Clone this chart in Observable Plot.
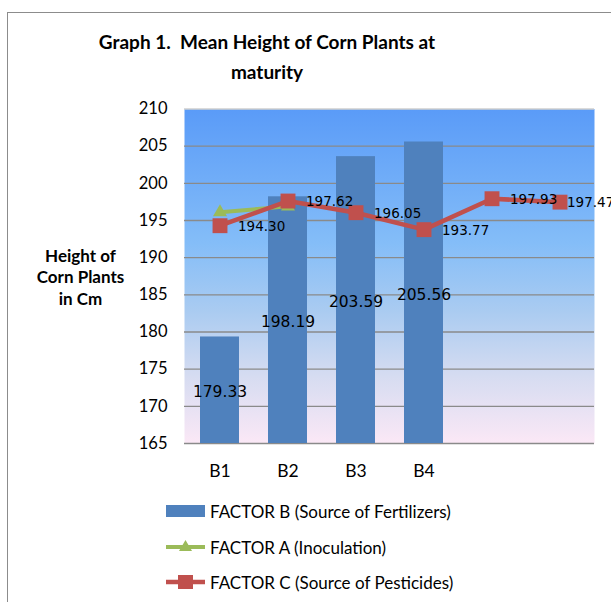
<!DOCTYPE html>
<html><head><meta charset="utf-8">
<script src="https://cdn.jsdelivr.net/npm/d3@7"></script>
<script src="https://cdn.jsdelivr.net/npm/@observablehq/plot@0.6"></script>
<style>
body{margin:0;width:611px;height:602px;overflow:hidden;background:#fff;font-family:Lato,sans-serif;position:relative}
#frame{position:absolute;left:7px;top:12px;width:700px;height:700px;border-left:1.5px solid #8c8c8c;border-top:1.5px solid #8c8c8c}
#title{position:absolute;left:0;top:27px;width:534px;text-align:center;font-weight:bold;font-size:19px;line-height:30px;color:#000}
#chart{position:absolute;left:0;top:90px}
.leg{position:absolute;left:165px;height:22px;display:flex;align-items:center;font-size:17px;color:#000;white-space:nowrap}
.leg svg{margin-right:1px}
</style></head><body>
<div id="frame"></div>
<div id="title">Graph 1.&nbsp; Mean Height of Corn Plants at<br>maturity</div>
<div id="chart"></div>
<div id="legend"></div>
<script>
// ---- data ----
const slots = [1, 2, 3, 4, 5, 6];
const xTickSlots = [1, 2, 3, 4];
const xTickLabels = ["B1", "B2", "B3", "B4"];
const factorB = [179.33, 198.19, 203.59, 205.56];
const factorA = [196.1, 196.9];
const factorC = [194.30, 197.62, 196.05, 193.77, 197.93, 197.47];
const yTicks = [165, 170, 175, 180, 185, 190, 195, 200, 205, 210];
const seriesNames = ["FACTOR B (Source of Fertilizers)", "FACTOR A (Inoculation)", "FACTOR C (Source of Pesticides)"];
const yTitle = "Height of\nCorn Plants\nin Cm";
const colors = {B: "#4f81bd", A: "#9bbb59", C: "#c0504d"};

const bData = factorB.map((v, i) => ({slot: slots[i], value: v}));
const aData = factorA.map((v, i) => ({slot: slots[i], value: v}));
const cData = factorC.map((v, i) => ({slot: slots[i], value: v}));
const yMin = yTicks[0], yMax = yTicks[yTicks.length - 1];

const plot = Plot.plot({
  width: 611, height: 390,
  marginLeft: 184, marginRight: 17, marginTop: 18.5, marginBottom: 37,
  style: {fontFamily: "Lato, sans-serif", background: "transparent", overflow: "visible", color: "#000"},
  x: {type: "band", domain: slots, paddingInner: 0.43, paddingOuter: 0.215, axis: null},
  y: {domain: [yMin, yMax], axis: null},
  marks: [
    Plot.frame({fill: "url(#bgGrad)", stroke: "none"}),
    Plot.ruleY(yTicks.filter(t => t !== yMax), {stroke: "#8a8a8a", strokeWidth: 1.3}),
    Plot.ruleY([yMax], {stroke: "#cfcfcf", strokeWidth: 1.3}),
    Plot.axisY(yTicks, {anchor: "left", tickSize: 0, tickPadding: 17, fontSize: 16.5, label: null}),
    Plot.axisX(xTickSlots, {anchor: "bottom", tickSize: 0, tickPadding: 21, fontSize: 17.5, label: null,
      tickFormat: d => xTickLabels[xTickSlots.indexOf(d)]}),
    Plot.text([yTitle], {frameAnchor: "left", dx: -104, text: d => d, textAnchor: "middle",
      fontSize: 17, fontWeight: "bold", lineHeight: 1.27}),
    Plot.barY(bData, {x: "slot", y1: yMin, y2: "value", fill: colors.B}),
    Plot.text(bData, {x: "slot", y: d => (yMin + d.value) / 2, text: d => d.value.toFixed(2),
      fontSize: 15.5, fontFamily: "DejaVu Sans", fill: "#000", dy: 2}),
    Plot.line(aData, {x: "slot", y: "value", stroke: colors.A, strokeWidth: 4}),
    Plot.dot(aData, {x: "slot", y: "value", symbol: "triangle", r: 5.2, fill: colors.A}),
    Plot.line(cData, {x: "slot", y: "value", stroke: colors.C, strokeWidth: 4.5}),
    Plot.dot(cData, {x: "slot", y: "value", symbol: "square", r: 8.4, fill: colors.C}),
    Plot.text(cData.slice(0, 5), {x: "slot", y: "value", text: d => d.value.toFixed(2), textAnchor: "start",
      dx: 18, dy: 1, fontSize: 13.5, fontFamily: "DejaVu Sans", fill: "#000"}),
    Plot.text(cData.slice(5), {x: "slot", y: "value", text: d => d.value.toFixed(2), textAnchor: "start",
      dx: 7, dy: 1, fontSize: 13.5, fontFamily: "DejaVu Sans", fill: "#000"})
  ]
});
d3.select(plot).insert("defs", ":first-child").html(
  `<linearGradient id="bgGrad" x1="0" y1="0" x2="0" y2="1">
     <stop offset="0%" stop-color="#5a9bf8"/>
     <stop offset="40%" stop-color="#84bdf8"/>
     <stop offset="60%" stop-color="#a9cbf1"/>
     <stop offset="80%" stop-color="#d6dcf1"/>
     <stop offset="100%" stop-color="#fbe8f6"/>
   </linearGradient>`);
document.getElementById("chart").appendChild(plot);

// ---- legend ----
const legend = document.getElementById("legend");
const swatches = [
  `<svg width="44" height="22"><rect x="1" y="5" width="39" height="12" fill="${colors.B}"/></svg>`,
  `<svg width="44" height="22"><line x1="1" x2="40" y1="11" y2="11" stroke="${colors.A}" stroke-width="4"/><path d="M20.5,4 L27,15 L14,15 Z" fill="${colors.A}"/></svg>`,
  `<svg width="44" height="22"><line x1="1" x2="40" y1="11" y2="11" stroke="${colors.C}" stroke-width="4.5"/><rect x="13" y="4" width="15" height="14" fill="${colors.C}"/></svg>`
];
const rowY = [500, 536, 571];
seriesNames.forEach((name, i) => {
  const row = document.createElement("div");
  row.className = "leg";
  row.style.top = rowY[i] + "px";
  row.innerHTML = swatches[i] + `<span>${name}</span>`;
  legend.appendChild(row);
});
</script>
</body></html>
